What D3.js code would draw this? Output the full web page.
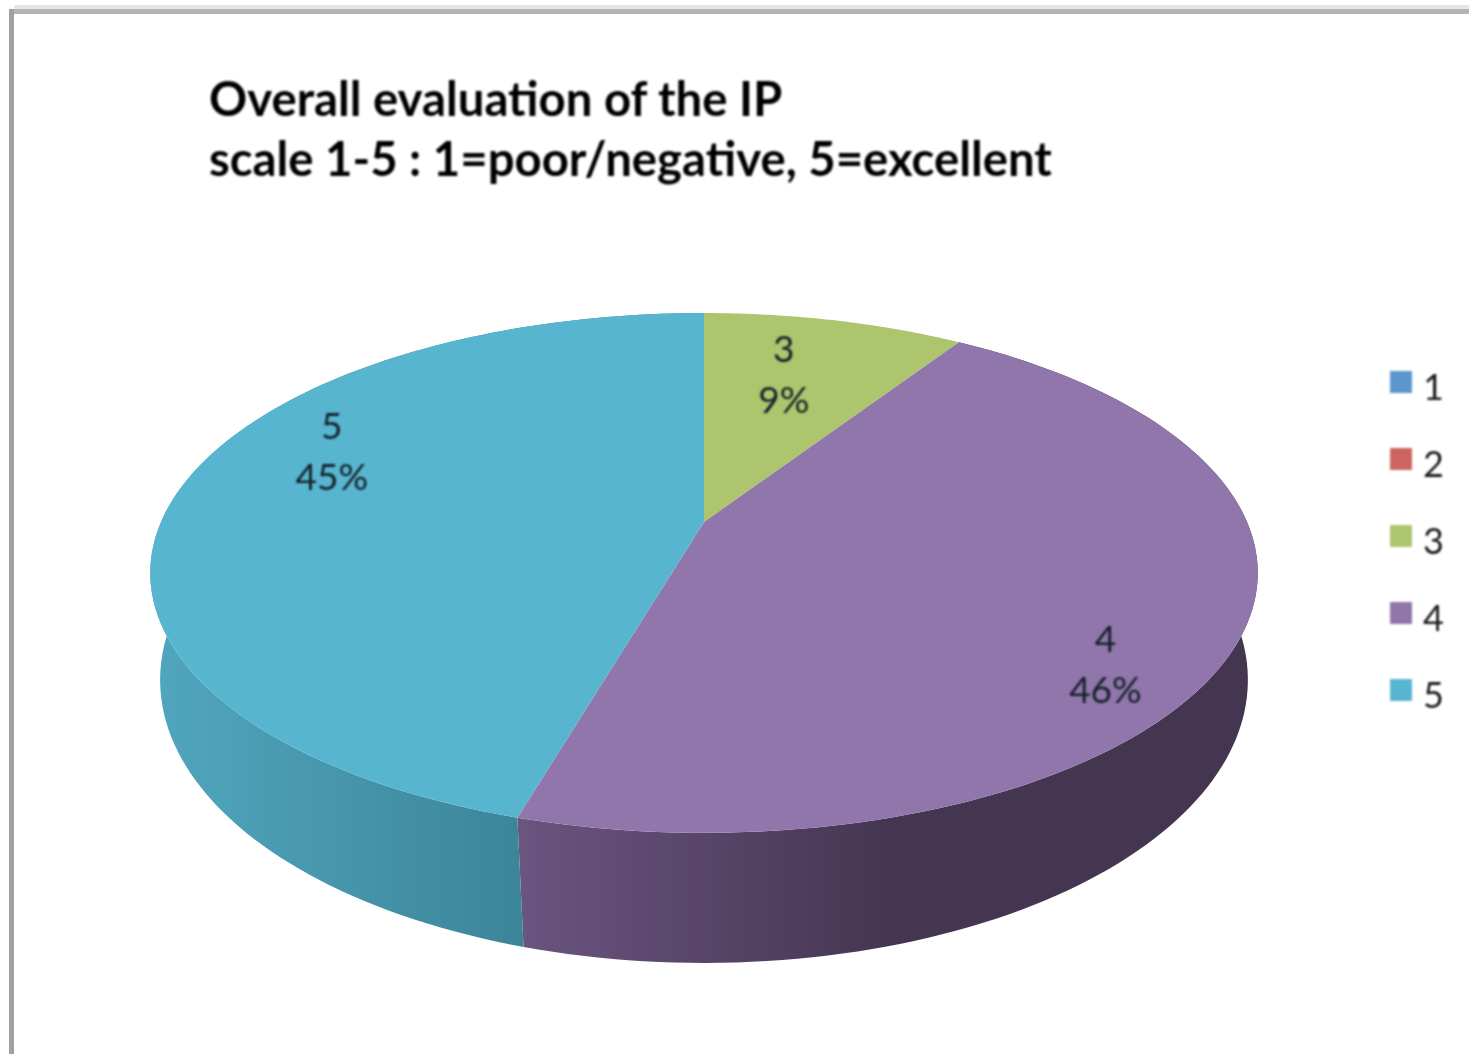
<!DOCTYPE html>
<html>
<head>
<meta charset="utf-8">
<title>Overall evaluation of the IP</title>
<script src="https://cdn.jsdelivr.net/npm/d3@7"></script>
<style>
  html, body { margin: 0; padding: 0; background: #fff; }
  svg { display: block; }
  text { font-family: Lato, "Open Sans", sans-serif; }
</style>
</head>
<body>
<svg id="svg"></svg>
<script>
const categories = ["1", "2", "3", "4", "5"];
const shares = [0, 0, 9.2, 45.3, 45.5];
const percentLabels = ["0%", "0%", "9%", "46%", "45%"];
const titleLines = ["Overall evaluation of the IP", "scale 1-5 : 1=poor/negative, 5=excellent"];
const topColors = ["#5b96cc", "#cc6560", "#adc56c", "#9176ab", "#58b5cf"];
const wallColors = {
  "4": ["#6a5480", "#443550"],
  "5": ["#50a6be", "#3c8599"]
};

const width = 1469, height = 1054;
const cx = 704;

// the pie lies in perspective, so each face is an ellipse whose centre point sits off-centre
const topFace = {k: 543, a: 147.6, b: 522, c: -0.196};
const bottomFace = {k: 535, a: 160.6, b: 629, c: -0.18};

const project = (face, angle, r = 1) => {
  const u = r * Math.sin(angle), v = -r * Math.cos(angle);
  const den = 1 + face.c * v;
  return [cx + face.k * u / den, (face.a * v + face.b) / den];
};

const color = d3.scaleOrdinal().domain(categories).range(topColors);
const pie = d3.pie().sort(null).value(d => d.share);
const slices = pie(categories.map((c, i) => ({cat: c, share: shares[i], label: percentLabels[i]})));

const arcSteps = (s) => d3.range(0, 121).map(i => s.startAngle + (s.endAngle - s.startAngle) * i / 120);
const line = d3.line();

const svg = d3.select("#svg").attr("width", width).attr("height", height);

// frame of the pasted chart
svg.append("rect").attr("x", 14).attr("y", 5).attr("width", width).attr("height", 4).attr("fill", "#e6e6e6");
svg.append("rect").attr("x", 9).attr("y", 9).attr("width", width).attr("height", 5).attr("fill", "#b3b3b3");
svg.append("rect").attr("x", 9).attr("y", 9).attr("width", 5).attr("height", height).attr("fill", "#a0a0a0");

const defs = svg.append("defs");
const wallGradient = (id, stops) => {
  const g = defs.append("linearGradient").attr("id", id)
    .attr("gradientUnits", "userSpaceOnUse")
    .attr("x1", stops[0]).attr("x2", stops[1]).attr("y1", 0).attr("y2", 0);
  g.append("stop").attr("offset", 0).attr("stop-color", stops[2]);
  g.append("stop").attr("offset", 1).attr("stop-color", stops[3]);
};
wallGradient("wall4", [522, 900, wallColors["4"][0], wallColors["4"][1]]);
wallGradient("wall5", [158, 522, wallColors["5"][0], wallColors["5"][1]]);

const pie3d = svg.append("g").attr("id", "mark").style("filter", "blur(0.7px)");

// side walls first, top faces go over them
pie3d.selectAll(".wall")
  .data(slices.filter(s => wallColors[s.data.cat]))
  .join("path")
  .attr("class", "wall")
  .attr("fill", s => `url(#wall${s.data.cat})`)
  .attr("d", s => {
    const steps = arcSteps(s);
    return line(steps.map(a => project(topFace, a)).concat(steps.slice().reverse().map(a => project(bottomFace, a)))) + "Z";
  });

pie3d.selectAll(".slice")
  .data(slices.filter(s => s.data.share > 0))
  .join("path")
  .attr("class", "slice")
  .attr("fill", s => color(s.data.cat))
  .attr("d", s => line([project(topFace, 0, 0)].concat(arcSteps(s).map(a => project(topFace, a)))) + "Z");

const textLayer = svg.append("g").style("filter", "blur(0.9px)");

textLayer.selectAll(".title")
  .data(titleLines)
  .join("text")
  .attr("class", "title")
  .attr("x", 209)
  .attr("y", (d, i) => 116 + i * 60)
  .attr("font-size", 47.3)
  .attr("font-weight", 700)
  .attr("fill", "#000")
  .text(d => d);

// data labels: slice direction at 70% radius, then nudged the way the original sits
const labelNudge = {"3": [-16, 1], "4": [35, 66], "5": [-3, -46]};
const labelled = textLayer.selectAll(".dataLabel")
  .data(slices.filter(s => s.data.share > 0))
  .join("g")
  .attr("class", "dataLabel")
  .attr("transform", s => {
    const p = project(topFace, (s.startAngle + s.endAngle) / 2, 0.7);
    const n = labelNudge[s.data.cat];
    return `translate(${p[0] + n[0]},${p[1] + n[1]})`;
  });
labelled.append("text").attr("text-anchor", "middle").attr("y", -13)
  .attr("font-size", 37).attr("fill", "#14212a").text(s => s.data.cat);
labelled.append("text").attr("text-anchor", "middle").attr("y", 38)
  .attr("font-size", 37).attr("fill", "#14212a").text(s => s.data.label);

const legendY = d3.scalePoint().domain(categories).range([371, 679]);
const legend = textLayer.selectAll(".legendItem")
  .data(categories)
  .join("g")
  .attr("class", "legendItem")
  .attr("transform", d => `translate(1390,${legendY(d)})`);
legend.append("rect").attr("width", 22).attr("height", 22).attr("fill", d => color(d));
legend.append("text").attr("x", 33).attr("y", 29).attr("font-size", 36).attr("fill", "#1a1a1a").text(d => d);
</script>
</body>
</html>
